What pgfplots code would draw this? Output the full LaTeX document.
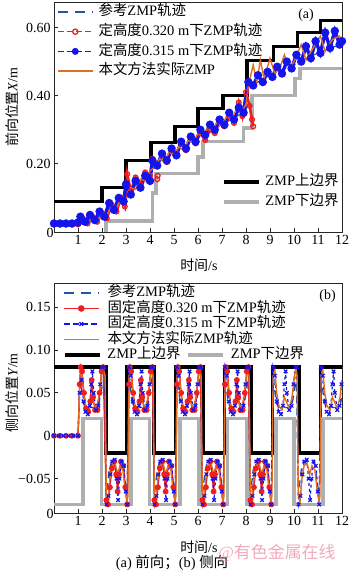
\documentclass[border=0pt]{standalone}
\usepackage{fontspec}
\setmainfont{Liberation Serif}
\newfontfamily\cjk{Noto Sans CJK SC}
\usepackage{pgfplots}
\pgfplotsset{compat=1.18}
\newcommand{\zh}[1]{{\cjk #1}}
\newcommand{\fs}{\fontsize{14}{15}\selectfont}
\definecolor{refblue}{RGB}{35,85,165}
\definecolor{myred}{RGB}{240,30,30}
\definecolor{myblue}{RGB}{20,20,235}
\definecolor{myorange}{RGB}{225,110,35}
\definecolor{mygray}{RGB}{175,175,175}
\definecolor{wm}{RGB}{238,150,165}
\pgfplotsset{
  base/.style={scale only axis, width=288bp, height=230bp, xmin=0, xmax=12},
  main/.style={base, axis line style={black!85, line width=0.8bp}, tick align=inside, tick pos=left,
    major tick length=4bp, tick style={black!85, line width=0.8bp},
    xtick={1,2,3,4,5,6,7,8,9,10,11,12}, xticklabels={1,2,3,4,5,6,7,8,9,10,11,12},
    ticklabel style={font=\fs}, label style={font=\fs},
    extra x ticks={0}, extra x tick labels={0},
    extra x tick style={xticklabel style={xshift=-4bp, yshift=7bp}}},
  ovl/.style={base, hide axis, ymin=0, ymax=1},
  leg/.style={legend cell align=left,
    legend image code/.code={\draw[mark repeat=2,mark phase=2,##1] plot coordinates {(0bp,0bp)(17.5bp,0bp)(35bp,0bp)};},
    legend style={draw=none, fill=none, inner sep=0pt, outer sep=0pt,
      font=\fontsize{14.5}{15}\selectfont,
      nodes={inner sep=0pt, text height=11bp, text depth=3.5bp}}},
}
\begin{document}
\begin{tikzpicture}
\useasboundingbox (0bp,0bp) rectangle (350bp,573bp);
% ================= TOP (a) =================
\begin{axis}[main, at={(54bp,341bp)}, anchor=south west, ymin=0, ymax=0.675,
  ytick={0.2,0.4,0.6}, yticklabels={0.20,0.40,0.60},
  xlabel={\zh{时间}/s}, ylabel={\zh{前向位置}\textit{X}/m},
  xlabel style={at={(axis description cs:0.503,-0.143)}, anchor=center},
  ylabel style={at={(axis description cs:-0.146,0.543)}, anchor=center}]
\addplot[black, line width=3.5bp] coordinates {(0,0.09)(2,0.09)(2,0.13)(3,0.13)(3,0.21)(4.05,0.21)(4.05,0.262)(5.05,0.262)(5.05,0.31)(6,0.31)(6,0.362)(7.05,0.362)(7.05,0.40)(8.05,0.40)(8.05,0.503)(9.15,0.503)(9.15,0.545)(10.15,0.545)(10.15,0.585)(11.1,0.585)(11.1,0.62)(12,0.62)};
\addplot[mygray, line width=3.5bp] coordinates {(2.17,0)(2.17,0.032)(4.1,0.032)(4.1,0.115)(4.25,0.115)(4.25,0.172)(6.0,0.172)(6.0,0.22)(6.2,0.22)(6.2,0.265)(7.9,0.265)(7.9,0.305)(8.25,0.305)(8.25,0.40)(10.05,0.40)(10.05,0.45)(10.25,0.45)(10.25,0.48)(12,0.48)};
\addplot[refblue, line width=1.2bp, dash pattern=on 7bp off 5bp] coordinates {(0,0.025)(1,0.025)(1.5,0.03)(2,0.045)(2.5,0.075)(3,0.105)(3.5,0.14)(4,0.17)(4.2,0.195)(4.5,0.21)(5,0.235)(5.5,0.255)(6,0.275)(6.5,0.295)(7,0.315)(7.5,0.335)(8,0.355)(8.1,0.43)(8.5,0.44)(9,0.46)(9.5,0.475)(10,0.49)(10.5,0.51)(11,0.525)(11.5,0.54)(12,0.55)};
\addplot[myred, line width=2.6bp, mark=o, mark size=2.4bp, mark options={solid, line width=1.3bp}] coordinates {(0,0.022)(0.25,0.022)(0.5,0.022)(0.75,0.022)(1.0,0.022)(1.2,0.04)(1.4,0.025)(1.6,0.045)(1.8,0.03)(2.0,0.055)(2.2,0.04)(2.4,0.08)(2.6,0.06)(2.8,0.1)(2.95,0.075)(3.05,0.17)(3.2,0.12)(3.4,0.16)(3.6,0.14)(3.8,0.175)(4.0,0.165)(4.1,0.215)(4.3,0.2)(4.5,0.225)(4.7,0.205)(4.9,0.24)(5.1,0.23)(5.3,0.26)(5.5,0.24)(5.7,0.28)(5.9,0.26)(6.1,0.29)(6.3,0.27)(6.5,0.3)(6.7,0.29)(6.9,0.325)(7.1,0.31)(7.3,0.34)(7.5,0.32)(7.7,0.38)(7.85,0.34)(8.0,0.41)(8.15,0.37)(8.25,0.33)(8.3,0.31)};
\addplot[myred, only marks, mark=o, mark size=2.4bp, mark options={line width=1.3bp}, forget plot] coordinates {(4.3,0.155)(4.32,0.165)};
\addplot[myblue, line width=3.4bp, mark=*, mark size=2.4bp] coordinates {(0,0.025)(0.25,0.025)(0.5,0.025)(0.75,0.025)(1.0,0.028)(1.1,0.045)(1.3,0.03)(1.5,0.05)(1.7,0.035)(1.9,0.06)(2.1,0.045)(2.3,0.085)(2.5,0.065)(2.7,0.1)(2.9,0.09)(3.0,0.14)(3.2,0.11)(3.4,0.15)(3.6,0.13)(3.8,0.165)(4.0,0.15)(4.1,0.21)(4.3,0.195)(4.5,0.23)(4.7,0.21)(4.9,0.245)(5.1,0.225)(5.3,0.265)(5.5,0.245)(5.7,0.28)(5.9,0.265)(6.1,0.3)(6.3,0.285)(6.5,0.315)(6.7,0.3)(6.9,0.33)(7.1,0.315)(7.3,0.35)(7.5,0.33)(7.7,0.365)(7.9,0.35)(8.1,0.44)(8.3,0.43)(8.5,0.46)(8.7,0.44)(8.9,0.47)(9.1,0.455)(9.3,0.485)(9.5,0.465)(9.7,0.5)(9.9,0.48)(10.1,0.52)(10.3,0.5)(10.5,0.545)(10.7,0.51)(10.9,0.56)(11.1,0.525)(11.3,0.585)(11.5,0.54)(11.7,0.59)(11.9,0.55)(12,0.56)};
\addplot[myorange, line width=1.4bp] coordinates {(0,0.025)(0.5,0.025)(1.0,0.025)(1.2,0.035)(1.4,0.027)(1.6,0.04)(1.8,0.033)(2.0,0.05)(2.2,0.05)(2.4,0.075)(2.6,0.07)(2.8,0.1)(3.0,0.095)(3.2,0.13)(3.4,0.125)(3.6,0.155)(3.8,0.15)(4.0,0.18)(4.2,0.19)(4.4,0.215)(4.6,0.205)(4.8,0.235)(5.0,0.225)(5.2,0.25)(5.4,0.24)(5.6,0.27)(5.8,0.26)(6.0,0.29)(6.2,0.28)(6.4,0.305)(6.6,0.295)(6.8,0.325)(7.0,0.31)(7.2,0.34)(7.4,0.33)(7.6,0.36)(7.8,0.35)(8.0,0.375)(8.1,0.43)(8.3,0.49)(8.45,0.44)(8.6,0.505)(8.75,0.45)(9.0,0.51)(9.2,0.465)(9.4,0.48)(9.6,0.52)(9.8,0.48)(10.0,0.5)(10.3,0.55)(10.5,0.505)(10.8,0.54)(11.1,0.575)(11.3,0.53)(11.6,0.565)(11.9,0.575)(12,0.555)};
\node[font=\fs] at (axis cs:10.5,0.635) {(a)};
\end{axis}
\begin{axis}[ovl, leg, at={(54bp,341bp)}, anchor=south west,
  legend style={at={(0.0104,0.988)}, anchor=north west, row sep=5.2bp, column sep=5bp}]
\addlegendimage{refblue, line width=1.3bp, dash pattern=on 10bp off 7bp}
\addlegendentry{\zh{参考}ZMP\zh{轨迹}}
\addlegendimage{myred, line width=1.3bp, dash pattern=on 6bp off 3bp, mark=o, mark size=2.6bp, mark options={solid, line width=1.3bp}}
\addlegendentry{\zh{定高度}0.320 m\zh{下}ZMP\zh{轨迹}}
\addlegendimage{myblue, line width=1.3bp, dash pattern=on 6bp off 3bp, mark=*, mark size=2.8bp, mark options={solid}}
\addlegendentry{\zh{定高度}0.315 m\zh{下}ZMP\zh{轨迹}}
\addlegendimage{myorange, line width=1.6bp}
\addlegendentry{\zh{本文方法实际}ZMP}
\end{axis}
\begin{axis}[ovl, leg, at={(54bp,341bp)}, anchor=south west,
  legend style={at={(0.583,0.249)}, anchor=north west, row sep=5.5bp, column sep=5bp}]
\addlegendimage{black, line width=3.5bp}
\addlegendentry{ZMP\zh{上边界}}
\addlegendimage{mygray, line width=3.5bp}
\addlegendentry{ZMP\zh{下边界}}
\end{axis}
% ================= BOTTOM (b) =================
\begin{axis}[main, at={(54bp,60bp)}, anchor=south west, ymin=-0.09, ymax=0.178,
  ytick={-0.05,0,0.05,0.1,0.15}, yticklabels={−0.05,0,0.05,0.10,0.15},
  xlabel={\zh{时间}/s}, ylabel={\zh{侧向位置}\textit{Y}/m},
  xlabel style={at={(axis description cs:0.503,-0.148)}, anchor=center},
  ylabel style={at={(axis description cs:-0.146,0.522)}, anchor=center}]
\addplot[black, line width=3.5bp] coordinates {(0,0.08)(2.17,0.08)(2.17,-0.02)(3.05,-0.02)(3.05,0.08)(4.17,0.08)(4.17,-0.02)(5.07,-0.02)(5.07,0.08)(6.2,0.08)(6.2,-0.02)(7.1,-0.02)(7.1,0.08)(8.2,0.08)(8.2,-0.02)(9.1,-0.02)(9.1,0.08)(10.2,0.08)(10.2,-0.02)(11.1,-0.02)(11.1,0.08)(12,0.08)};
\addplot[mygray, line width=3.5bp] coordinates {(0,-0.08)(1.2,-0.08)(1.2,0.02)(1.97,0.02)(1.97,-0.08)(3.2,-0.08)(3.2,0.02)(3.98,0.02)(3.98,-0.08)(5.25,-0.08)(5.25,0.02)(6.05,0.02)(6.05,-0.08)(7.22,-0.08)(7.22,0.02)(8.05,0.02)(8.05,-0.08)(9.25,-0.08)(9.25,0.02)(10.0,0.02)(10.0,-0.08)(11.2,-0.08)(11.2,0.02)(12,0.02)};
\addplot[refblue, line width=1.3bp, dash pattern=on 7bp off 5bp] coordinates {(0,0)(1.0,0)(1.08,0.07)(1.2,0.04)(1.3,0.033)(1.85,0.033)(1.95,0.05)(2.1,0.07)(2.18,-0.07)(2.3,-0.04)(2.4,-0.03)(2.85,-0.03)(2.95,-0.05)(3.05,-0.07)(3.13,0.07)(3.25,0.04)(3.35,0.033)(3.9,0.033)(4.0,0.05)(4.1,0.07)(4.18,-0.07)(4.3,-0.04)(4.4,-0.03)(4.85,-0.03)(4.95,-0.05)(5.05,-0.07)(5.13,0.07)(5.25,0.04)(5.35,0.033)(5.9,0.033)(6.0,0.05)(6.1,0.07)(6.18,-0.07)(6.3,-0.04)(6.4,-0.03)(6.85,-0.03)(6.95,-0.05)(7.05,-0.07)(7.13,0.07)(7.25,0.04)(7.35,0.033)(7.9,0.033)(8.0,0.05)(8.1,0.07)(8.18,-0.07)(8.3,-0.04)(8.4,-0.03)(8.85,-0.03)(8.95,-0.05)(9.05,-0.07)(9.13,0.07)(9.25,0.04)(9.35,0.033)(9.9,0.033)(10.0,0.05)(10.1,0.07)(10.18,-0.07)(10.3,-0.04)(10.4,-0.03)(10.85,-0.03)(10.95,-0.05)(11.05,-0.07)(11.13,0.07)(11.25,0.04)(11.35,0.033)(11.9,0.033)(12,0.045)};
\addplot[myred, line width=1.4bp, mark=*, mark size=2.2bp] coordinates {(0,0)(0.25,0)(0.5,0)(0.75,0)(1.0,0)(1.07,0.06)(1.11,0.08)(1.17,0.075)(1.25,0.05)(1.33,0.032)(1.43,0.028)(1.51,0.04)(1.57,0.065)(1.63,0.045)(1.71,0.03)(1.81,0.03)(1.9,0.05)(1.98,0.075)(2.05,0.08)(2.18,-0.075)(2.25,-0.08)(2.33,-0.06)(2.41,-0.038)(2.51,-0.03)(2.59,-0.045)(2.65,-0.065)(2.71,-0.045)(2.79,-0.03)(2.89,-0.035)(2.97,-0.06)(3.05,-0.08)(3.12,0.06)(3.16,0.08)(3.22,0.075)(3.3,0.05)(3.38,0.032)(3.48,0.028)(3.56,0.04)(3.62,0.065)(3.68,0.045)(3.76,0.03)(3.86,0.03)(3.95,0.05)(4.03,0.075)(4.1,0.08)(4.18,-0.075)(4.25,-0.08)(4.33,-0.06)(4.41,-0.038)(4.51,-0.03)(4.59,-0.045)(4.65,-0.065)(4.71,-0.045)(4.79,-0.03)(4.89,-0.035)(4.97,-0.06)(5.05,-0.08)(5.12,0.06)(5.16,0.08)(5.22,0.075)(5.3,0.05)(5.38,0.032)(5.48,0.028)(5.56,0.04)(5.62,0.065)(5.68,0.045)(5.76,0.03)(5.86,0.03)(5.95,0.05)(6.03,0.075)(6.1,0.08)(6.18,-0.075)(6.25,-0.08)(6.33,-0.06)(6.41,-0.038)(6.51,-0.03)(6.59,-0.045)(6.65,-0.065)(6.71,-0.045)(6.79,-0.03)(6.89,-0.035)(6.97,-0.06)(7.05,-0.08)(7.12,0.06)(7.16,0.08)(7.22,0.075)(7.3,0.05)(7.38,0.032)(7.48,0.028)(7.56,0.04)(7.62,0.065)(7.68,0.045)(7.76,0.03)(7.86,0.03)(7.95,0.05)(8.03,0.075)(8.1,0.08)(8.18,-0.075)(8.25,-0.08)(8.33,-0.06)(8.41,-0.038)(8.51,-0.03)(8.59,-0.045)(8.65,-0.065)(8.71,-0.045)(8.79,-0.03)(8.89,-0.035)(8.97,-0.06)(9.05,-0.08)};
\addplot[myblue, line width=1.2bp, dashed, mark=x, mark size=2.5bp, mark options={solid, line width=1.2bp}] coordinates {(0,0)(0.2,0)(0.4,0)(0.6,0)(0.8,0)(1.0,0)(1.07,0.05)(1.15,0.065)(1.23,0.04)(1.31,0.028)(1.41,0.025)(1.49,0.035)(1.55,0.06)(1.6,0.075)(1.65,0.05)(1.75,0.03)(1.85,0.035)(1.93,0.06)(2.01,0.08)(2.1,0.08)(2.19,-0.08)(2.27,-0.07)(2.35,-0.045)(2.43,-0.03)(2.53,-0.028)(2.61,-0.05)(2.67,-0.075)(2.73,-0.05)(2.81,-0.03)(2.91,-0.035)(2.99,-0.065)(3.05,-0.08)(3.12,0.08)(3.2,0.07)(3.28,0.04)(3.36,0.028)(3.46,0.025)(3.54,0.035)(3.6,0.06)(3.65,0.075)(3.7,0.05)(3.8,0.03)(3.9,0.035)(3.98,0.06)(4.06,0.08)(4.12,0.08)(4.19,-0.08)(4.27,-0.07)(4.35,-0.045)(4.43,-0.03)(4.53,-0.028)(4.61,-0.05)(4.67,-0.075)(4.73,-0.05)(4.81,-0.03)(4.91,-0.035)(4.99,-0.065)(5.05,-0.08)(5.12,0.08)(5.2,0.07)(5.28,0.04)(5.36,0.028)(5.46,0.025)(5.54,0.035)(5.6,0.06)(5.65,0.075)(5.7,0.05)(5.8,0.03)(5.9,0.035)(5.98,0.06)(6.06,0.08)(6.12,0.08)(6.19,-0.08)(6.27,-0.07)(6.35,-0.045)(6.43,-0.03)(6.53,-0.028)(6.61,-0.05)(6.67,-0.075)(6.73,-0.05)(6.81,-0.03)(6.91,-0.035)(6.99,-0.065)(7.05,-0.08)(7.12,0.08)(7.2,0.07)(7.28,0.04)(7.36,0.028)(7.46,0.025)(7.54,0.035)(7.6,0.06)(7.65,0.075)(7.7,0.05)(7.8,0.03)(7.9,0.035)(7.98,0.06)(8.06,0.08)(8.12,0.08)(8.19,-0.08)(8.27,-0.07)(8.35,-0.045)(8.43,-0.03)(8.53,-0.028)(8.61,-0.05)(8.67,-0.075)(8.73,-0.05)(8.81,-0.03)(8.91,-0.035)(8.99,-0.065)(9.05,-0.08)(9.12,0.08)(9.2,0.07)(9.28,0.04)(9.36,0.028)(9.46,0.025)(9.54,0.035)(9.6,0.06)(9.65,0.075)(9.7,0.05)(9.8,0.03)(9.9,0.035)(9.98,0.06)(10.06,0.08)(10.12,0.08)(10.19,-0.08)(10.27,-0.07)(10.35,-0.045)(10.43,-0.03)(10.53,-0.028)(10.61,-0.05)(10.67,-0.075)(10.73,-0.05)(10.81,-0.03)(10.91,-0.035)(10.99,-0.065)(11.05,-0.08)(11.12,0.08)(11.2,0.07)(11.28,0.04)(11.36,0.028)(11.46,0.025)(11.54,0.035)(11.6,0.06)(11.65,0.075)(11.7,0.05)(11.8,0.03)(11.9,0.035)(11.98,0.06)};
\addplot[myorange, line width=1.4bp] coordinates {(0,0)(0.95,0)(1.02,0.01)(1.08,0.07)(1.15,0.077)(1.23,0.05)(1.32,0.035)(1.45,0.03)(1.55,0.045)(1.63,0.04)(1.75,0.032)(1.87,0.045)(1.97,0.07)(2.05,0.077)(2.13,0.07)(2.18,-0.07)(2.25,-0.077)(2.33,-0.05)(2.42,-0.035)(2.55,-0.032)(2.65,-0.045)(2.75,-0.035)(2.87,-0.04)(2.97,-0.065)(3.05,-0.077)(3.08,-0.07)(3.13,0.07)(3.2,0.077)(3.28,0.05)(3.37,0.035)(3.5,0.03)(3.6,0.045)(3.68,0.04)(3.8,0.032)(3.92,0.045)(4.02,0.07)(4.08,0.077)(4.13,0.07)(4.18,-0.07)(4.25,-0.077)(4.33,-0.05)(4.42,-0.035)(4.55,-0.032)(4.65,-0.045)(4.75,-0.035)(4.87,-0.04)(4.97,-0.065)(5.05,-0.077)(5.08,-0.07)(5.13,0.07)(5.2,0.077)(5.28,0.05)(5.37,0.035)(5.5,0.03)(5.6,0.045)(5.68,0.04)(5.8,0.032)(5.92,0.045)(6.02,0.07)(6.08,0.077)(6.13,0.07)(6.18,-0.07)(6.25,-0.077)(6.33,-0.05)(6.42,-0.035)(6.55,-0.032)(6.65,-0.045)(6.75,-0.035)(6.87,-0.04)(6.97,-0.065)(7.05,-0.077)(7.08,-0.07)(7.13,0.07)(7.2,0.077)(7.28,0.05)(7.37,0.035)(7.5,0.03)(7.6,0.045)(7.68,0.04)(7.8,0.032)(7.92,0.045)(8.02,0.07)(8.08,0.077)(8.13,0.07)(8.18,-0.07)(8.25,-0.077)(8.33,-0.05)(8.42,-0.035)(8.55,-0.032)(8.65,-0.045)(8.75,-0.035)(8.87,-0.04)(8.97,-0.065)(9.05,-0.077)(9.08,-0.07)(9.13,0.07)(9.2,0.077)(9.28,0.05)(9.37,0.035)(9.5,0.03)(9.6,0.045)(9.68,0.04)(9.8,0.032)(9.92,0.045)(10.02,0.07)(10.08,0.077)(10.13,0.07)(10.18,-0.07)(10.25,-0.077)(10.33,-0.05)(10.42,-0.035)(10.55,-0.032)(10.65,-0.045)(10.75,-0.035)(10.87,-0.04)(10.97,-0.065)(11.05,-0.077)(11.08,-0.07)(11.13,0.07)(11.2,0.077)(11.28,0.05)(11.37,0.035)(11.5,0.03)(11.6,0.045)(11.68,0.04)(11.8,0.032)(11.92,0.045)(12,0.065)};
\node[font=\fs] at (axis cs:11.4,0.163) {(b)};
\end{axis}
\begin{axis}[ovl, leg, at={(54bp,60bp)}, anchor=south west,
  legend style={at={(0.031,0.988)}, anchor=north west, row sep=1bp, column sep=8bp}]
\addlegendimage{refblue, line width=1.3bp, dash pattern=on 10bp off 7bp}
\addlegendentry{\zh{参考}ZMP\zh{轨迹}}
\addlegendimage{myred, line width=1.4bp, mark=*, mark size=2.6bp}
\addlegendentry{\zh{固定高度}0.320 m\zh{下}ZMP\zh{轨迹}}
\addlegendimage{myblue, line width=1.2bp, dash pattern=on 6bp off 3bp, mark=x, mark size=2.6bp, mark options={solid, line width=1.2bp}}
\addlegendentry{\zh{固定高度}0.315 m\zh{下}ZMP\zh{轨迹}}
\addlegendimage{myorange, line width=1.6bp}
\addlegendentry{\zh{本文方法实际}ZMP\zh{轨迹}}
\end{axis}
\begin{axis}[ovl, leg, at={(54bp,60bp)}, anchor=south west,
  legend columns=2,
  legend style={at={(0.031,0.7185)}, anchor=north west, column sep=6bp}]
\addlegendimage{black, line width=3.5bp}
\addlegendentry{ZMP\zh{上边界}}
\addlegendimage{mygray, line width=3.5bp}
\addlegendentry{ZMP\zh{下边界}}
\end{axis}
\node[font=\fontsize{14.5}{15}\selectfont] at (172bp,10bp) {(a) \zh{前向；}(b) \zh{侧向}};
\node[font=\fontsize{17}{18}\selectfont, text=wm, opacity=0.8] at (277bp,20bp) {@\zh{有色金属在线}};
\end{tikzpicture}
\end{document}
